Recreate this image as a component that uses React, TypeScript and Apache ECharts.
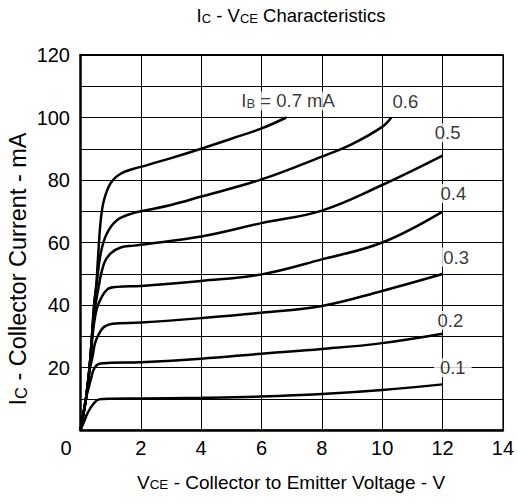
import React, { useEffect, useRef } from "react";
import * as echarts from "echarts";

const FONT = "'Liberation Sans', Arial, sans-serif";

// I_C (mA) vs V_CE (V) for each base current
const ib01: number[][] = [[0,0],[0.12,2.7],[0.23,5.3],[0.4,8],[0.62,9.8],[1,10],[2,10.1],[4,10.3],[6,10.7],[8,11.5],[10,12.8],[12,14.6]];
const ib02: number[][] = [[0,0],[0.18,10],[0.27,13.5],[0.35,16.5],[0.45,19.6],[0.62,21.2],[1,21.5],[2,21.7],[4,22.8],[6,24.4],[8,25.9],[10,27.8],[12,30.8]];
const ib03: number[][] = [[0,0],[0.18,10],[0.3,19],[0.4,23.5],[0.48,27.7],[0.62,30.9],[0.78,33],[1.06,34],[2,34.4],[4,35.8],[6,37.5],[8,39.7],[10,44.5],[12,49.9]];
const ib04: number[][] = [[0,0],[0.18,10],[0.3,20],[0.4,30],[0.48,36],[0.6,40.5],[0.89,45],[1.22,45.8],[2,46.1],[4,47.7],[6,49.8],[8,54.6],[10,60],[12,69.9]];
const ib05: number[][] = [[0,0],[0.18,10],[0.3,20],[0.38,30],[0.46,37.5],[0.56,43.7],[0.78,53.3],[1,56.5],[1.33,58.4],[1.77,59],[2,59.3],[4,61.9],[6,66.2],[8,70.2],[10,78.4],[12,87.8]];
const ib06: number[][] = [[0,0],[0.18,10],[0.3,20],[0.38,30],[0.45,40],[0.55,48],[0.67,56.5],[0.87,62.8],[1.22,67.2],[1.77,69.5],[2,70],[3,72],[4,74.7],[6,80.2],[8,87.5],[9,91.5],[10,97],[10.3,100]];
const ib07: number[][] = [[0,0],[0.18,10],[0.3,20],[0.38,30],[0.45,40],[0.52,46],[0.58,55],[0.67,67],[0.78,73.6],[1,79],[1.33,82],[1.77,83.6],[2,84.2],[3,87],[4,90],[5,93.2],[6,96.5],[6.82,100]];

const curves = [ib01, ib02, ib03, ib04, ib05, ib06, ib07];

// curve labels: [V_CE, I_C, text]
const curveLabels: [number, number, string][] = [
  [6.88, 105.3, "{n|I}{s|B}{n| = 0.7 mA}"],
  [10.77, 105.1, "{n|0.6}"],
  [12.17, 95.1, "{n|0.5}"],
  [12.36, 75.7, "{n|0.4}"],
  [12.45, 55.3, "{n|0.3}"],
  [12.26, 35.1, "{n|0.2}"],
  [12.34, 19.9, "{n|0.1}"],
];

const xTicks = { min: 0, max: 14, interval: 2 };
const yTicks = { min: 0, max: 120, interval: 20 };

export default function App() {
  const ref = useRef<HTMLDivElement>(null);
  useEffect(() => {
    if (!ref.current) return;
    const chart = echarts.init(ref.current, null, { renderer: "svg" });
    const lineSeries = curves.map((c) => ({
      type: "line",
      data: c,
      smooth: 0.4,
      showSymbol: false,
      symbol: "none",
      lineStyle: { color: "#000", width: 2.5 },
      z: 3,
    }));
    const labelSeries = {
      type: "scatter",
      symbolSize: 0,
      z: 5,
      data: curveLabels.map((l) => ({ value: [l[0], l[1]], text: l[2] })),
      label: {
        show: true,
        position: "inside",
        formatter: (p: any) => p.data.text,
        backgroundColor: "#fff",
        padding: [0, 6],
        rich: {
          n: { fontFamily: FONT, fontSize: 18.5, color: "#000" },
          s: { fontFamily: FONT, fontSize: 13, color: "#000", verticalAlign: "bottom" },
        },
      },
    };
    const gridLine = { show: true, lineStyle: { color: "#000", width: 1 } };
    chart.setOption({
      animation: false,
      backgroundColor: "#fff",
      grid: { left: 80.5, right: 12.7, top: 55, bottom: 73, show: true, borderColor: "#000", borderWidth: 1 },
      xAxis: [
        {
          type: "value",
          min: xTicks.min,
          max: xTicks.max,
          interval: xTicks.interval,
          axisLine: { show: true, onZero: false, lineStyle: { color: "#000", width: 2.5 } },
          axisTick: { show: false },
          splitLine: gridLine,
          axisLabel: {
            margin: 8,
            fontFamily: FONT,
            fontSize: 20,
            color: "#000",
            formatter: (v: number) => (v === 0 ? "{z|0}" : String(v)),
            rich: { z: { fontFamily: FONT, fontSize: 20, color: "#000", padding: [0, 29, 0, 0] } },
          },
        },
        {
          type: "value",
          position: "top",
          min: xTicks.min,
          max: xTicks.max,
          interval: xTicks.interval,
          axisLine: { show: true, onZero: false, lineStyle: { color: "#000", width: 2 } },
          axisTick: { show: false },
          axisLabel: { show: false },
          splitLine: { show: false },
        },
      ],
      yAxis: {
        type: "value",
        min: yTicks.min,
        max: yTicks.max,
        interval: yTicks.interval,
        axisLine: { show: true, onZero: false, lineStyle: { color: "#000", width: 2.5 } },
        axisTick: { show: false },
        minorTick: { show: false, splitNumber: 2 },
        splitLine: gridLine,
        minorSplitLine: { show: true, lineStyle: { color: "#000", width: 1 } },
        axisLabel: { margin: 10.5, fontFamily: FONT, fontSize: 20, color: "#000", showMinLabel: false },
      },
      graphic: [
        {
          type: "text",
          x: 291,
          y: 15.5,
          style: {
            text: "{n|I}{s|C}{n| - V}{s|CE}{n| Characteristics}",
            align: "center",
            verticalAlign: "middle",
            rich: {
              n: { fontFamily: FONT, fontSize: 18.5, fill: "#000" },
              s: { fontFamily: FONT, fontSize: 13, fill: "#000", verticalAlign: "bottom" },
            },
          },
        },
        {
          type: "text",
          x: 291,
          y: 482,
          style: {
            text: "{n|V}{s|CE}{n| - Collector to Emitter Voltage - V}",
            align: "center",
            verticalAlign: "middle",
            rich: {
              n: { fontFamily: FONT, fontSize: 19, fill: "#000" },
              s: { fontFamily: FONT, fontSize: 13.5, fill: "#000", verticalAlign: "bottom" },
            },
          },
        },
        {
          type: "text",
          x: 17.5,
          y: 269,
          rotation: Math.PI / 2,
          style: {
            text: "{n|I}{s|C}{n| - Collector Current - mA}",
            align: "center",
            verticalAlign: "middle",
            rich: {
              n: { fontFamily: FONT, fontSize: 23.5, fill: "#000" },
              s: { fontFamily: FONT, fontSize: 16.5, fill: "#000", verticalAlign: "bottom" },
            },
          },
        },
      ],
      series: [...lineSeries, labelSeries],
    });
    return () => chart.dispose();
  }, []);
  return <div ref={ref} style={{ width: 517, height: 503, position: "absolute", left: 0, top: 0 }} />;
}
